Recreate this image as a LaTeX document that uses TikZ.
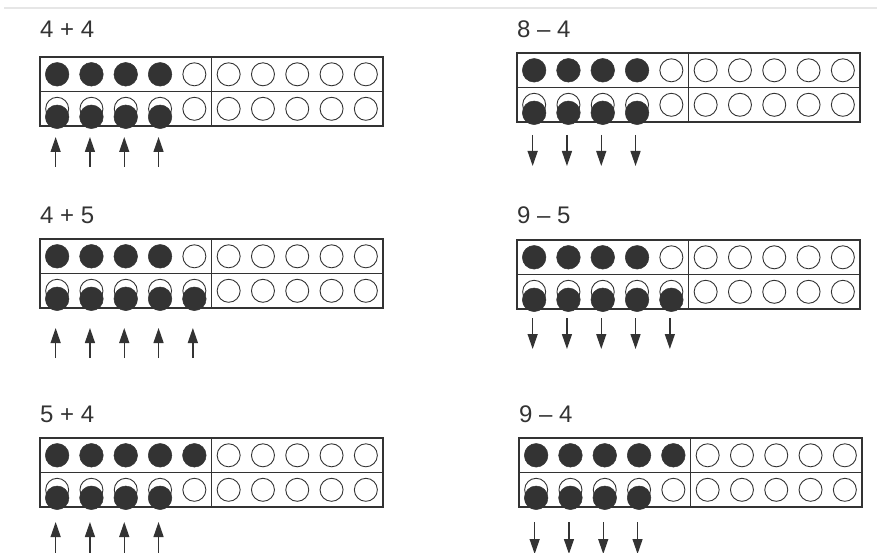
\documentclass[tikz,border=0pt]{standalone}
\usepackage{fontspec}
\setmainfont{Liberation Sans}
\usetikzlibrary{arrows.meta}
\definecolor{ink}{HTML}{333333}
\definecolor{scanline}{HTML}{E6E6E6}
\tikzset{
  frameline/.style={draw=ink, line width=1.3pt},
  emptydot/.style={draw=ink, line width=0.9pt, fill=white},
  fulldot/.style={fill=ink, draw=ink, line width=0.5pt},
  movearrow/.style={draw=ink, line width=1.3pt, -{Triangle[length=15pt,width=10pt]}},
  eqlabel/.style={anchor=base west, inner sep=0pt, font=\fontsize{24}{28}\selectfont, text=ink}
}
% #1 left x, #2 top y, #3 label baseline y, #4 label, #5 filled top, #6 moved bottom,
% #7 arrow start y, #8 arrow end y, #9 name
\newcommand{\tenpanel}[9]{%
  \node[eqlabel] (#9) at (#1,#3) {#4};
  \draw[frameline] (#1,#2) rectangle ++(343,69);
  \draw[frameline] (#1,#2+34.5) -- ++(343,0);
  \draw[frameline] (#1+171.5,#2) -- ++(0,69);
  \foreach \i in {1,...,10}{
    \pgfmathsetmacro\cx{#1+(\i-0.5)*34.3}
    \ifnum\i>#5\relax
      \draw[emptydot] (\cx,#2+17.3) circle[radius=11.5];
    \else
      \fill[fulldot] (\cx,#2+17.3) circle[radius=11.8];
    \fi
    \draw[emptydot] (\cx,#2+51.8) circle[radius=11.5];
  }
  \foreach \i in {1,...,#6}{
    \pgfmathsetmacro\cx{#1+(\i-0.5)*34.3}
    \fill[fulldot] (\cx,#2+59.8) circle[radius=11.8];
    \coordinate (#9a\i) at (\cx-1.5,#7);
    \coordinate (#9b\i) at (\cx-1.5,#8);
    \draw[movearrow] (#9a\i) -- (#9b\i);
  }
}
\begin{document}
\begin{tikzpicture}[x=1pt,y=-1pt]
  \useasboundingbox (0,0) rectangle (877,553);
  \draw[scanline, line width=1.5pt] (4,8) -- (877,8);
  \tenpanel{40}{57}{38}{4 + 4}{4}{4}{167}{137}{pa}
  \tenpanel{517}{53}{38}{8 – 4}{4}{4}{135}{166}{pb}
  \tenpanel{40}{239}{223}{4 + 5}{4}{5}{358}{328}{pc}
  \tenpanel{517}{240}{223}{9 – 5}{4}{5}{318}{349}{pd}
  \tenpanel{40}{438}{422}{5 + 4}{5}{4}{555}{522}{pe}
  \tenpanel{519}{438}{422}{9 – 4}{5}{4}{522}{554}{pf}
\end{tikzpicture}
\end{document}
